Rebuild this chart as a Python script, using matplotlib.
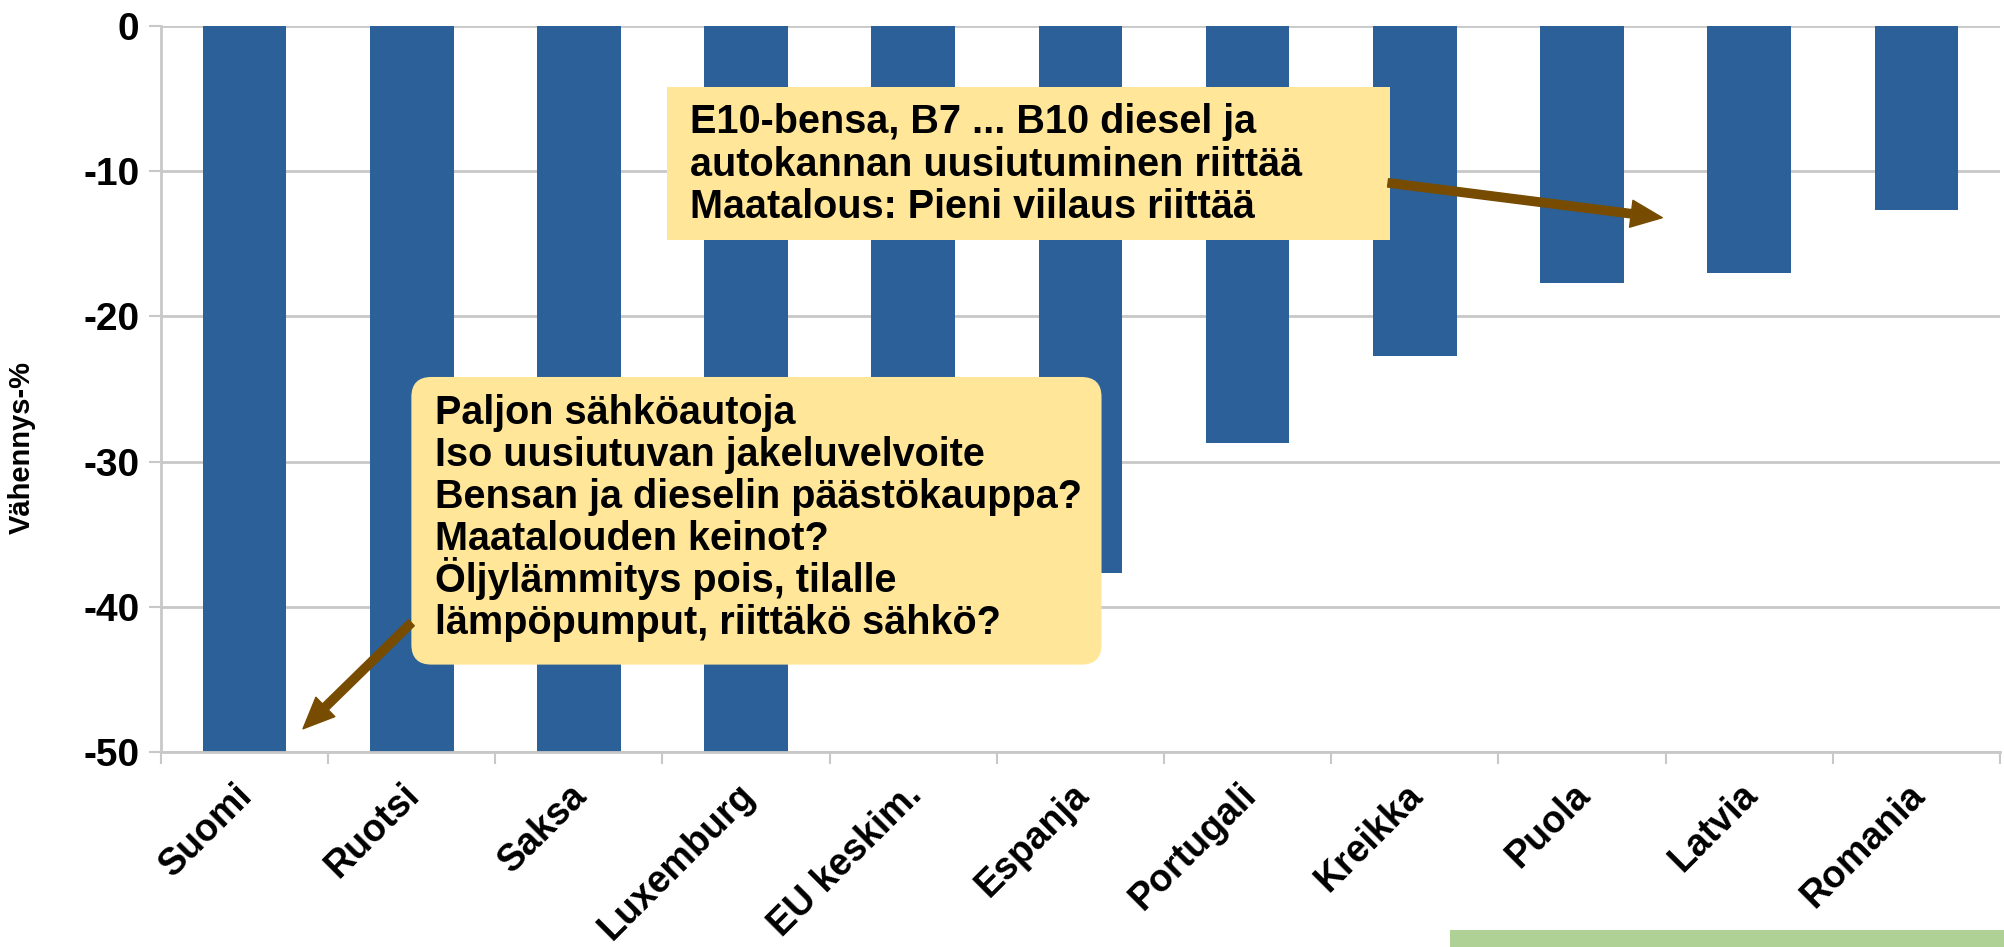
"""
Effort sharing 2030: required emission cuts by country (Vähennys-%)
"""

import numpy as np
import matplotlib.pyplot as plt
from matplotlib.patches import Rectangle, FancyBboxPatch
from matplotlib.transforms import ScaledTranslation

maat = ['Suomi', 'Ruotsi', 'Saksa', 'Luxemburg', 'EU keskim.', 'Espanja',
        'Portugali', 'Kreikka', 'Puola', 'Latvia', 'Romania']
vahennys = [-50, -50, -50, -50, -40, -37.7, -28.7, -22.7, -17.7, -17, -12.7]
yticks = [0, -10, -20, -30, -40, -50]

rivit_ala = ["Paljon sähköautoja",
             "Iso uusiutuvan jakeluvelvoite",
             "Bensan ja dieselin päästökauppa?",
             "Maatalouden keinot?",
             "Öljylämmitys pois, tilalle",
             "lämpöpumput, riittäkö sähkö?"]
rivit_yla = ["E10-bensa, B7 ... B10 diesel ja",
             "autokannan uusiutuminen riittää",
             "Maatalous: Pieni viilaus riittää"]

bar_col = '#2C6099'
box_col = '#FFE699'
arrow_col = '#774C00'
grid_col = '#C8C8C8'

plt.rcParams['font.family'] = ['Liberation Sans', 'DejaVu Sans']
plt.rcParams['font.weight'] = 'bold'

fig = plt.figure(figsize=(20.04, 9.47), dpi=100)
ax = fig.add_axes([0.0803, 0.2059, 0.9177, 0.7666])

x = np.arange(len(maat))
ax.bar(x, vahennys, width=0.5, color=bar_col, zorder=2)

ax.set_xlim(-0.5, len(maat) - 0.5)
ax.set_ylim(-50, 0)
ax.set_yticks(yticks)
ax.set_yticklabels([str(v) for v in yticks], fontsize=28, fontweight='bold')
ax.yaxis.grid(True, color=grid_col, lw=2, zorder=0)
ax.set_axisbelow(True)

ax.set_xticks(x)
ax.set_xticklabels(maat, fontsize=27, fontweight='bold', rotation=45,
                   ha='right', va='top', rotation_mode='anchor')
ax.set_xticks(np.arange(len(maat) + 1) - 0.5, minor=True)
ax.tick_params(axis='x', which='major', length=0, pad=18)
ax.tick_params(axis='x', which='minor', length=8.6, width=1.5, color=grid_col)
ax.tick_params(axis='y', length=8.6, width=1.5, color=grid_col, pad=7)
shift = ScaledTranslation(-10 / 100, 0, fig.dpi_scale_trans)
for lab in ax.get_xticklabels():
    lab.set_transform(lab.get_transform() + shift)

for s in ['top', 'right']:
    ax.spines[s].set_visible(False)
for s in ['left', 'bottom']:
    ax.spines[s].set_color(grid_col)
    ax.spines[s].set_linewidth(2)

ax.set_ylabel('Vähennys-%', fontsize=21, fontweight='bold')
ax.yaxis.set_label_coords(-0.068, 0.42)

# pixel size of one data unit, used to keep box corners round
px_x = 0.9177 * 2004 / len(maat)
px_y = 0.7666 * 947 / 50

arrow = dict(arrowstyle='simple,head_length=1.5,head_width=1.3,tail_width=0.4',
             color=arrow_col, shrinkA=0, shrinkB=0, mutation_scale=15)
pitch = 2.9

# lower box (rounded) -> arrow to Suomi
x0, x1, y0, y1 = 0.998, 5.126, -43.98, -24.17
ax.add_patch(FancyBboxPatch((x0, y0), x1 - x0, y1 - y0,
                            boxstyle='round,pad=0,rounding_size=%.4f' % (20 / px_x),
                            mutation_aspect=px_x / px_y,
                            fc=box_col, ec='none', zorder=5))
for i, r in enumerate(rivit_ala):
    ax.text(1.139, -27.4 - i * pitch, r, fontsize=28.5, fontweight='bold',
            ha='left', va='baseline', zorder=6)
ax.annotate('', xy=(0.35, -48.4), xytext=(x0, -41.1),
            arrowprops=arrow, zorder=6)

# upper box (square) -> arrow towards Puola/Latvia
x0, x1, y0, y1 = 2.526, 6.853, -14.74, -4.2
ax.add_patch(Rectangle((x0, y0), x1 - x0, y1 - y0, fc=box_col, ec='none', zorder=5))
for i, r in enumerate(rivit_yla):
    ax.text(2.664, -7.4 - i * pitch, r, fontsize=28.5, fontweight='bold',
            ha='left', va='baseline', zorder=6)
ax.annotate('', xy=(8.48, -13.2), xytext=(6.84, -10.8),
            arrowprops=arrow, zorder=6)

# green strip at the bottom edge
fig.patches.append(Rectangle((1450 / 2004, 0), 1 - 1450 / 2004, 17 / 947,
                             transform=fig.transFigure, fc='#B0D196', ec='none'))

fig.savefig('out.png', dpi=100)
